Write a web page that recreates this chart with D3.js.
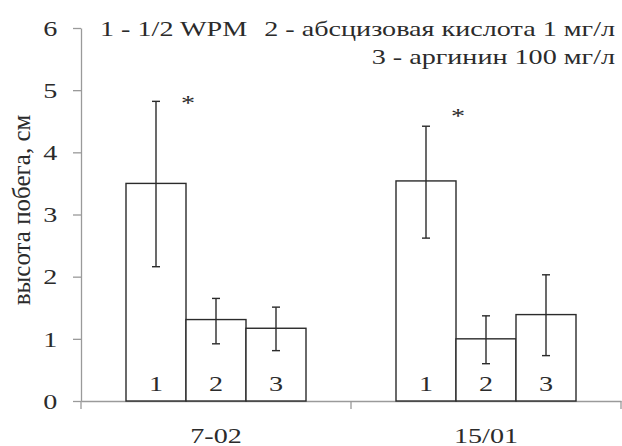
<!DOCTYPE html>
<html>
<head>
<meta charset="utf-8">
<script src="https://cdn.jsdelivr.net/npm/d3@7"></script>
<style>
  body { margin: 0; background: #fff; }
  text { font-family: "Liberation Serif", "Times New Roman", serif; fill: #2b2b2b; }
</style>
</head>
<body>
<script>
// chart data
var lines = ["7-02", "15/01"];
var treatments = ["1", "2", "3"];
var means = [[3.50, 1.31, 1.17], [3.54, 1.00, 1.39]];
var errHigh = [[4.82, 1.65, 1.51], [4.42, 1.37, 2.03]];
var errLow = [[2.16, 0.92, 0.81], [2.62, 0.60, 0.73]];
var starLevel = [4.85, 4.65];
var yTicks = [0, 1, 2, 3, 4, 5, 6];
var legendItems = ["1 - 1/2 WPM", "2 - абсцизовая кислота 1 мг/л", "3 - аргинин 100 мг/л"];

var svgWidth = 622;
var svgHeight = 446;
var stretch = 1.28; // the original picture is a bit wider than tall

var margin = { top: 28, right: 1, bottom: 45, left: 81 };
var chartWidth = svgWidth - margin.left - margin.right;
var chartHeight = svgHeight - margin.top - margin.bottom;

var svg = d3.select("body")
  .append("svg")
  .attr("width", svgWidth)
  .attr("height", svgHeight);

var chartGroup = svg.append("g")
  .attr("transform", `translate(${margin.left}, ${margin.top})`);

var yScale = d3.scaleLinear()
  .domain([0, 6])
  .range([chartHeight, 0]);

var x0 = d3.scaleBand()
  .domain(lines)
  .range([0, chartWidth]);

var x1 = d3.scaleBand()
  .domain(treatments)
  .range([x0.bandwidth() / 6, x0.bandwidth() * 5 / 6]);

// y axis
var yAxis = d3.axisLeft(yScale)
  .tickValues(yTicks)
  .tickFormat(d3.format("d"))
  .tickSize(8)
  .tickSizeOuter(0);

var yAxisG = chartGroup.append("g").call(yAxis);
yAxisG.select(".domain").attr("stroke", "#9a9a9a").attr("stroke-width", 1.3);
yAxisG.selectAll(".tick line").attr("stroke", "#9a9a9a").attr("stroke-width", 1.3);
yAxisG.selectAll(".tick text")
  .attr("x", -18.5)
  .attr("dy", "0.33em")
  .attr("transform", `scale(${stretch},1)`)
  .style("font-size", "22px")
  .style("font-family", "Liberation Serif")
  .attr("fill", "#2b2b2b");

// x axis: labels at group centres, ticks at group boundaries
var xAxis = d3.axisBottom(x0).tickSize(0).tickSizeOuter(0);
var xAxisG = chartGroup.append("g")
  .attr("transform", `translate(0, ${chartHeight})`)
  .call(xAxis);
xAxisG.select(".domain").attr("stroke", "#9a9a9a").attr("stroke-width", 1.3);
xAxisG.selectAll(".tick text")
  .attr("y", 0)
  .attr("dy", 0)
  .attr("transform", `translate(0, 42) scale(${stretch},1)`)
  .style("font-size", "22px")
  .style("font-family", "Liberation Serif")
  .attr("fill", "#2b2b2b");

var bounds = lines.map(d => x0(d)).concat([x0.range()[1]]);
xAxisG.selectAll(".bound")
  .data(bounds)
  .enter()
  .append("line")
  .attr("x1", d => d)
  .attr("x2", d => d)
  .attr("y1", 0)
  .attr("y2", 8)
  .attr("stroke", "#9a9a9a")
  .attr("stroke-width", 1.3);

// bars
var groups = chartGroup.selectAll(".grp")
  .data(lines)
  .enter()
  .append("g")
  .attr("transform", d => `translate(${x0(d)}, 0)`);

groups.each(function(line, gi) {
  var g = d3.select(this);
  var rows = treatments.map((t, i) => ({
    t: t, v: means[gi][i], hi: errHigh[gi][i], lo: errLow[gi][i]
  }));

  g.selectAll("rect")
    .data(rows)
    .enter()
    .append("rect")
    .attr("x", d => x1(d.t))
    .attr("y", d => yScale(d.v))
    .attr("width", x1.bandwidth())
    .attr("height", d => chartHeight - yScale(d.v))
    .attr("fill", "#fff")
    .attr("stroke", "#2b2b2b")
    .attr("stroke-width", 1.4);

  var cx = d => x1(d.t) + x1.bandwidth() / 2;

  // error bars
  g.selectAll(".err")
    .data(rows)
    .enter()
    .append("line")
    .attr("x1", cx).attr("x2", cx)
    .attr("y1", d => yScale(d.hi))
    .attr("y2", d => yScale(d.lo))
    .attr("stroke", "#2b2b2b")
    .attr("stroke-width", 1.4);

  ["hi", "lo"].forEach(function(k) {
    g.selectAll(".cap-" + k)
      .data(rows)
      .enter()
      .append("line")
      .attr("x1", d => cx(d) - 4).attr("x2", d => cx(d) + 4)
      .attr("y1", d => yScale(d[k]))
      .attr("y2", d => yScale(d[k]))
      .attr("stroke", "#2b2b2b")
      .attr("stroke-width", 1.4);
  });

  // numbers inside bars
  g.selectAll(".num")
    .data(rows)
    .enter()
    .append("text")
    .attr("text-anchor", "middle")
    .attr("transform", d => `translate(${cx(d)}, ${chartHeight - 10}) scale(${stretch},1)`)
    .style("font-size", "22px")
    .text(d => d.t);

  // significance star
  g.append("text")
    .attr("text-anchor", "middle")
    .attr("transform", `translate(${x1("1") + x1.bandwidth() + 2}, ${yScale(starLevel[gi]) + 11}) scale(${stretch},1)`)
    .style("font-size", "22px")
    .text("*");
});

// legend
svg.append("text")
  .attr("transform", `translate(100, 36) scale(${stretch},1)`)
  .style("font-size", "22px")
  .text(legendItems[0]);

svg.append("text")
  .attr("text-anchor", "end")
  .attr("transform", `translate(615, 36) scale(${stretch},1)`)
  .style("font-size", "22px")
  .text(legendItems[1]);

svg.append("text")
  .attr("text-anchor", "end")
  .attr("transform", `translate(615, 64) scale(${stretch},1)`)
  .style("font-size", "22px")
  .text(legendItems[2]);

// y axis title
svg.append("text")
  .attr("text-anchor", "middle")
  .attr("transform", "translate(30, 210) rotate(-90)")
  .style("font-size", "25px")
  .text("высота побега, см");
</script>
</body>
</html>
